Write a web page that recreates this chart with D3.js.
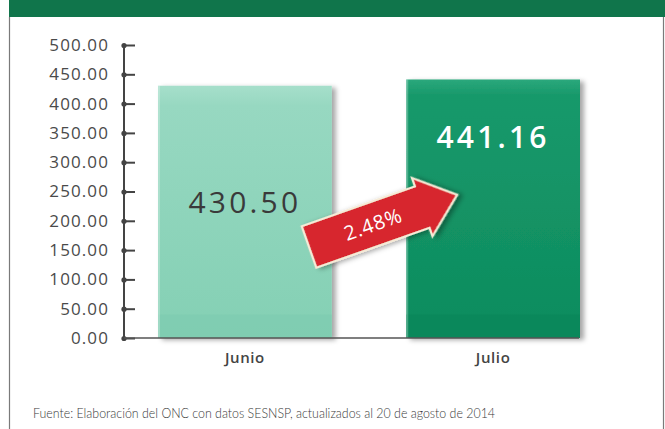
<!DOCTYPE html>
<html>
<head>
<meta charset="utf-8">
<script src="https://cdn.jsdelivr.net/npm/d3@7"></script>
<style>
  html, body { margin: 0; padding: 0; background: #fff; }
  svg { display: block; }
</style>
</head>
<body>
<svg id="chart" width="665" height="429"></svg>
<script>
// Monthly values
const categories = ["Junio", "Julio"];
const values = [430.50, 441.16];
const valueLabels = ["430.50", "441.16"];
const changeLabel = "2.48%";
const tickValues = [0, 50, 100, 150, 200, 250, 300, 350, 400, 450, 500];
const sourceNote = "Fuente: Elaboración del ONC con datos SESNSP, actualizados al 20 de agosto de 2014";

const svg = d3.select("#chart");
const W = 665, H = 429;

const defs = svg.append("defs");

// bar fills
const g1 = defs.append("linearGradient").attr("id", "gJunio").attr("x1", 0).attr("y1", 0).attr("x2", 0).attr("y2", 1);
g1.append("stop").attr("offset", "0%").attr("stop-color", "#a6dfcb");
g1.append("stop").attr("offset", "8%").attr("stop-color", "#97d8c1");
g1.append("stop").attr("offset", "100%").attr("stop-color", "#84d0b4");
const g2 = defs.append("linearGradient").attr("id", "gJulio").attr("x1", 0).attr("y1", 0).attr("x2", 0).attr("y2", 1);
g2.append("stop").attr("offset", "0%").attr("stop-color", "#2ba87c");
g2.append("stop").attr("offset", "6%").attr("stop-color", "#18996b");
g2.append("stop").attr("offset", "100%").attr("stop-color", "#0d8c5e");

const sh = defs.append("filter").attr("id", "shadow").attr("x", "-10%").attr("y", "-10%").attr("width", "130%").attr("height", "130%");
sh.append("feDropShadow").attr("dx", 4).attr("dy", 2).attr("stdDeviation", 2.5).attr("flood-color", "#000").attr("flood-opacity", 0.35);

// header band and panel frame
svg.append("rect").attr("x", 9).attr("y", 0).attr("width", W - 9).attr("height", 17).attr("fill", "#10754b");
svg.append("line").attr("x1", 9.5).attr("x2", 9.5).attr("y1", 17).attr("y2", H).attr("stroke", "#7a7a7a").attr("stroke-width", 1.2);
svg.append("line").attr("x1", 663.5).attr("x2", 663.5).attr("y1", 17).attr("y2", H).attr("stroke", "#7a7a7a").attr("stroke-width", 1.2);

// scales
const y = d3.scaleLinear().domain([0, 500]).range([338, 45]);
const x = d3.scaleBand().domain(categories).range([158, 580]).paddingInner(0.3).paddingOuter(0);
const axisX = 124;

// bars
const fills = ["url(#gJunio)", "url(#gJulio)"];
const bands = ["#7ccbaf", "#0a8557"];
const bars = svg.append("g");
categories.forEach((c, i) => {
  const bx = x(c), bw = x.bandwidth();
  bars.append("rect").attr("x", bx).attr("y", y(values[i])).attr("width", bw)
    .attr("height", y(0) - y(values[i])).attr("fill", fills[i]).attr("filter", "url(#shadow)");
  // darker foot band
  bars.append("rect").attr("x", bx).attr("y", y(40)).attr("width", bw)
    .attr("height", y(0) - y(40)).attr("fill", bands[i]).attr("opacity", 0.55);
  // light left edge
  bars.append("rect").attr("x", bx).attr("y", y(values[i])).attr("width", 2)
    .attr("height", y(0) - y(values[i])).attr("fill", "#fff").attr("opacity", 0.25);
});

// y axis
const yAxis = d3.axisLeft(y).tickValues(tickValues).tickFormat(d3.format(".2f")).tickSize(0).tickPadding(15);
const ga = svg.append("g").attr("transform", `translate(${axisX},0)`).call(yAxis);
ga.select(".domain").remove();
ga.selectAll("text").attr("font-family", "'Open Sans', sans-serif").attr("font-size", 17)
  .attr("fill", "#4a4a4a").attr("letter-spacing", 1.1);
ga.selectAll(".tick").append("line").attr("x1", 0).attr("x2", 11).attr("stroke", "#444").attr("stroke-width", 2);
ga.selectAll(".tick").append("circle").attr("r", 2.6).attr("fill", "#444");
svg.append("line").attr("x1", axisX).attr("x2", axisX).attr("y1", y(500)).attr("y2", y(0))
  .attr("stroke", "#444").attr("stroke-width", 2);

// baseline
svg.append("line").attr("x1", axisX).attr("x2", 579).attr("y1", y(0)).attr("y2", y(0))
  .attr("stroke", "#555").attr("stroke-width", 1.6);

// category labels
const xAxis = d3.axisBottom(x).tickSize(0).tickPadding(14);
const gx = svg.append("g").attr("transform", `translate(0,${y(0)})`).call(xAxis);
gx.select(".domain").remove();
gx.selectAll("text").attr("font-family", "'Open Sans', sans-serif").attr("font-size", 15)
  .attr("font-weight", 600).attr("fill", "#444").attr("letter-spacing", 0.6);

// value labels inside bars
const labelY = [213, 148];
const labelFill = ["#3a3a3a", "#ffffff"];
const labelWeight = [400, 600];
categories.forEach((c, i) => {
  svg.append("text").attr("x", x(c) + x.bandwidth() / 2).attr("y", labelY[i])
    .attr("text-anchor", "middle").attr("font-family", "'Open Sans', sans-serif")
    .attr("font-size", 30).attr("font-weight", labelWeight[i]).attr("letter-spacing", 3.2)
    .attr("fill", labelFill[i]).text(valueLabels[i]);
});

// change arrow
const arrow = svg.append("g").attr("transform", "translate(309,247) rotate(-19.4)");
const arrowPts = [[0, -22], [120, -22], [120, -31], [157, 0], [120, 31], [120, 22], [0, 22]];
arrow.append("path").attr("d", d3.line()(arrowPts) + "Z")
  .attr("fill", "#d7272f").attr("stroke", "#f6ead6").attr("stroke-width", 2.2)
  .attr("stroke-linejoin", "miter").attr("filter", "url(#shadow)");
arrow.append("text").attr("x", 68).attr("y", 7).attr("text-anchor", "middle")
  .attr("font-family", "'Open Sans', sans-serif").attr("font-size", 20).attr("fill", "#fff")
  .attr("letter-spacing", 0.8).text(changeLabel);

// source note
svg.append("text").attr("x", 33).attr("y", 418).attr("font-family", "Lato, sans-serif")
  .attr("font-size", 14.5).attr("font-weight", 300).attr("fill", "#3a3a3a")
  .attr("textLength", 462).attr("lengthAdjust", "spacingAndGlyphs").text(sourceNote);
</script>
</body>
</html>
